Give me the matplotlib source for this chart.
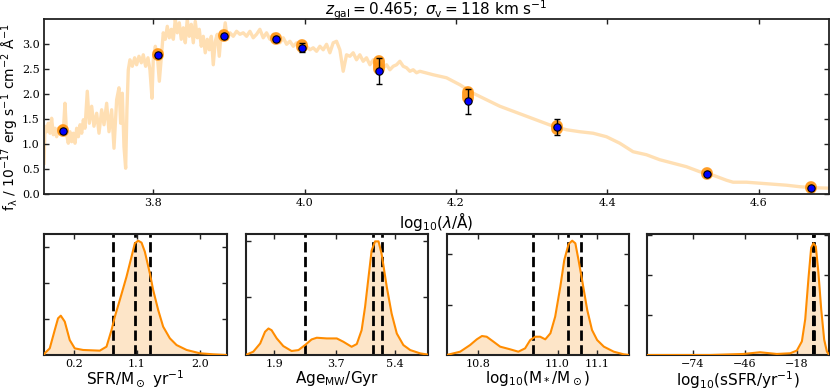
import numpy as np
import matplotlib
matplotlib.use("Agg")
import matplotlib.pyplot as plt

# ---------------- data ----------------
spec_loglam = [3.6556, 3.6569, 3.6591, 3.6613, 3.6635, 3.6657, 3.6679, 3.6701, 3.6723, 3.6745,
               3.6767, 3.6789, 3.6811, 3.6833, 3.6855, 3.6877, 3.6899, 3.6921, 3.6943, 3.6966,
               3.6988, 3.7010, 3.7032, 3.7054, 3.7076, 3.7098, 3.7128, 3.7155, 3.7186, 3.7216,
               3.7252, 3.7283, 3.7318, 3.7349, 3.7384, 3.7415, 3.7450, 3.7481, 3.7516, 3.7547,
               3.7569, 3.7591, 3.7613, 3.7635, 3.7652, 3.7670, 3.7692, 3.7723, 3.7754, 3.7780,
               3.7811, 3.7842, 3.7868, 3.7899, 3.7930, 3.7956, 3.7983, 3.8000, 3.8027, 3.8053,
               3.8080, 3.8106, 3.8132, 3.8159, 3.8185, 3.8212, 3.8238, 3.8265, 3.8291, 3.8317,
               3.8344, 3.8370, 3.8397, 3.8423, 3.8449, 3.8476, 3.8502, 3.8529, 3.8555, 3.8582,
               3.8608, 3.8634, 3.8661, 3.8687, 3.8714, 3.8740, 3.8767, 3.8793, 3.8819, 3.8846,
               3.8872, 3.8899, 3.8925, 3.8951, 3.8978, 3.9013, 3.9057, 3.9101, 3.9145, 3.9189,
               3.9233, 3.9277, 3.9321, 3.9365, 3.9409, 3.9453, 3.9497, 3.9541, 3.9585, 3.9630,
               3.9674, 3.9718, 3.9762, 3.9806, 3.9850, 3.9894, 3.9938, 3.9982, 4.0026, 4.0070,
               4.0114, 4.0158, 4.0202, 4.0246, 4.0290, 4.0334, 4.0378, 4.0422, 4.0466, 4.0510,
               4.0554, 4.0598, 4.0642, 4.0686, 4.0730, 4.0774, 4.0818, 4.0863, 4.0907, 4.0951,
               4.0995, 4.1039, 4.1083, 4.1127, 4.1171, 4.1215, 4.1259, 4.1303, 4.1347, 4.1391,
               4.1435, 4.1479, 4.1523, 4.1699, 4.1875, 4.2052, 4.2228, 4.2404, 4.2580, 4.2756,
               4.2932, 4.3108, 4.3285, 4.3461, 4.3637, 4.3813, 4.3989, 4.4165, 4.4341, 4.4517,
               4.4693, 4.4870, 4.5046, 4.5222, 4.5398, 4.5574, 4.5662, 4.5838, 4.6014, 4.6191,
               4.6367, 4.6543, 4.6719, 4.6939]
spec_flux = [0.61, 1.35, 1.24, 1.41, 1.21, 1.51, 1.18, 1.31, 1.14, 1.31,
             1.21, 1.35, 1.24, 1.81, 1.18, 1.01, 1.24, 1.04, 1.21, 1.01,
             1.31, 1.14, 1.38, 1.21, 1.48, 1.31, 2.05, 1.41, 1.75, 1.35,
             1.61, 1.21, 1.68, 1.38, 1.81, 1.24, 1.68, 0.91, 1.88, 2.12,
             1.41, 2.01, 0.94, 0.51, 1.68, 2.48, 2.68, 2.55, 2.72, 2.58,
             2.75, 2.62, 2.78, 2.55, 2.72, 2.48, 1.91, 2.68, 2.95, 2.78,
             2.25, 2.72, 3.22, 3.09, 3.35, 3.12, 3.29, 3.09, 3.49, 3.22,
             3.42, 3.09, 3.32, 3.02, 3.49, 3.15, 3.39, 3.02, 3.45, 3.12,
             3.29, 2.95, 3.15, 2.82, 3.09, 2.88, 3.15, 2.58, 3.05, 3.19,
             2.75, 3.25, 3.12, 3.42, 3.09, 3.22, 3.15, 3.25, 3.19, 3.22,
             3.15, 3.25, 3.12, 3.19, 3.29, 3.12, 3.22, 3.09, 3.19, 3.09,
             3.02, 3.12, 2.99, 3.05, 2.95, 3.02, 2.99, 2.92, 2.95, 2.88,
             2.92, 2.85, 2.95, 2.88, 2.99, 2.82, 3.02, 3.05, 2.88, 2.45,
             2.78, 2.75, 2.82, 2.68, 2.78, 2.65, 2.72, 2.58, 2.68, 2.55,
             2.62, 2.52, 2.58, 2.48, 2.55, 2.58, 2.65, 2.55, 2.52, 2.45,
             2.48, 2.42, 2.45, 2.38, 2.32, 2.18, 2.01, 1.88, 1.75, 1.65,
             1.55, 1.45, 1.35, 1.28, 1.24, 1.21, 1.14, 1.01, 0.84, 0.78,
             0.68, 0.61, 0.54, 0.44, 0.37, 0.27, 0.23, 0.23, 0.21, 0.19,
             0.17, 0.14, 0.12, 0.11]

phot_loglam = [3.681, 3.806, 3.893, 3.962, 3.996, 4.098, 4.216, 4.334, 4.532, 4.669]
phot_obs = [1.245, 2.77, 3.15, 3.09, 2.92, 2.46, 1.85, 1.325, 0.40, 0.12]
phot_err = [0.04, 0.04, 0.04, 0.04, 0.09, 0.26, 0.25, 0.16, 0.03, 0.02]
phot_model = [1.26, 2.78, 3.16, 3.10, 2.96, 2.58, 1.98, 1.33, 0.41, 0.13]
phot_model_spread = [0.01, 0.01, 0.01, 0.01, 0.02, 0.08, 0.06, 0.03, 0.01, 0.01]

title_text = r"$z_\mathrm{gal} = 0.465;\ \sigma_\mathrm{v} = 118$ km s$^{-1}$"

# posterior panels
post_labels = [r"$\mathrm{SFR/M_\odot\ yr^{-1}}$", r"$\mathrm{Age_{MW}/Gyr}$",
               r"$\mathrm{log_{10}(M_*/M_\odot)}$", r"$\mathrm{log_{10}(sSFR/yr^{-1})}$"]
post_xticks = [[0.2, 1.1, 2.0], [1.9, 3.7, 5.4], [10.8, 11.0, 11.1], [-74, -46, -18]]
post_xticklabels = [["0.2", "1.1", "2.0"], ["1.9", "3.7", "5.4"],
                    ["10.8", "11.0", "11.1"], ["\u221274", "\u221246", "\u221218"]]
post_xlim = [(-0.23, 2.38), (1.07, 6.36), (10.72, 11.181), (-98.8, -0.6)]
post_percentiles = [[0.757, 1.077, 1.29], [2.79, 4.77, 5.03],
                    [10.937, 11.027, 11.058], [-9.5, -9.06, -8.6]]
post_yticks = [[0.315, 0.63, 0.945], [0.505, 1.0], [0.437, 0.884], [0.35, 0.70, 1.05]]

sfr_x = [-0.23, -0.22, -0.148, -0.076, -0.029, 0.010, 0.067, 0.138, 0.21, 0.329, 0.568, 0.664,
         0.736, 0.783, 0.854, 0.95, 1.022, 1.069, 1.117, 1.165, 1.212, 1.284, 1.331, 1.403,
         1.474, 1.57, 1.666, 1.81, 2.0, 2.19, 2.38]
sfr_d = [0.0, 0.015, 0.058, 0.219, 0.321, 0.344, 0.292, 0.131, 0.058, 0.044, 0.038, 0.073,
         0.219, 0.335, 0.481, 0.685, 0.860, 0.977, 1.0, 0.983, 0.904, 0.714, 0.569, 0.394,
         0.248, 0.146, 0.087, 0.044, 0.015, 0.006, 0.0]

age_x = [1.07, 1.29, 1.49, 1.63, 1.73, 1.82, 1.97, 2.16, 2.40, 2.60, 2.79, 2.98, 3.13, 3.42,
         3.71, 3.90, 4.14, 4.29, 4.43, 4.53, 4.63, 4.72, 4.82, 4.92, 5.01, 5.16, 5.30, 5.45,
         5.64, 5.84, 6.13, 6.36]
age_d = [0.0, 0.029, 0.101, 0.203, 0.232, 0.217, 0.145, 0.078, 0.035, 0.043, 0.087, 0.136,
         0.151, 0.145, 0.145, 0.116, 0.072, 0.096, 0.217, 0.420, 0.681, 0.913, 0.994, 0.994,
         0.884, 0.594, 0.362, 0.188, 0.087, 0.043, 0.014, 0.003]

mass_x = [10.72, 10.754, 10.779, 10.796, 10.809, 10.821, 10.838, 10.855, 10.880, 10.901,
          10.918, 10.931, 10.944, 10.956, 10.969, 10.982, 10.994, 11.007, 11.017, 11.028,
          11.037, 11.045, 11.053, 11.062, 11.075, 11.087, 11.100, 11.117, 11.142, 11.167,
          11.181]
mass_d = [0.0, 0.029, 0.087, 0.137, 0.166, 0.160, 0.117, 0.073, 0.050, 0.029, 0.058, 0.131,
          0.160, 0.160, 0.137, 0.190, 0.335, 0.598, 0.831, 0.971, 1.0, 0.977, 0.831, 0.656,
          0.394, 0.219, 0.131, 0.073, 0.029, 0.006, 0.0]

ssfr_x = [-98.8, -64.7, -46.8, -37.8, -28.8, -21.6, -18.0, -15.3, -13.5, -11.75, -10.3,
          -9.06, -7.8, -6.4, -4.9, -3.3, -1.84, -0.6]
ssfr_d = [0.0, 0.0, 0.009, 0.024, 0.009, 0.015, 0.039, 0.119, 0.313, 0.672, 0.94, 0.977,
          0.95, 0.72, 0.40, 0.134, 0.030, 0.0]

post_x = [sfr_x, age_x, mass_x, ssfr_x]
post_d = [sfr_d, age_d, mass_d, ssfr_d]

# ---------------- style ----------------
W, H = 830, 392
fig = plt.figure(figsize=(W / 100, H / 100), dpi=100)
spine_c = "#222222"
tick_font = "DejaVu Serif"
label_fs = 11


def style_axes(ax, lw=1.3):
    for s in ax.spines.values():
        s.set_linewidth(lw)
        s.set_color(spine_c)
    ax.tick_params(direction="in", top=True, right=True, length=3.5, width=1.0,
                   color=spine_c, labelsize=8, labelfontfamily=tick_font, pad=3)


# top spectrum panel
ax = fig.add_axes([44 / W, 1 - 193.7 / H, (829 - 44) / W, (193.7 - 19.3) / H])
style_axes(ax)
ax.plot(spec_loglam, spec_flux, color="#FFDFB3", lw=2.4, zorder=1)
for lx, m, s in zip(phot_loglam, phot_model, phot_model_spread):
    ax.plot([lx, lx], [m - s, m + s], color="darkorange", lw=8.5,
            solid_capstyle="round", alpha=0.85, zorder=2)
ax.errorbar(phot_loglam, phot_obs, yerr=phot_err, fmt="none", ecolor="black",
            elinewidth=1.0, capsize=2.5, capthick=1.0, zorder=3)
ax.scatter(phot_loglam, phot_obs, s=28, color="blue", edgecolors="black",
           linewidths=0.8, zorder=4)
ax.set_xlim(3.6556, 4.693)
ax.set_ylim(0, 3.49)
ax.set_xticks([3.8, 4.0, 4.2, 4.4, 4.6])
ax.set_yticks([0.0, 0.5, 1.0, 1.5, 2.0, 2.5, 3.0])
ax.set_xlabel(r"$\mathrm{log_{10}}(\lambda / \mathrm{\AA})$", fontsize=label_fs, labelpad=1.5)
ax.set_ylabel(r"$\mathrm{f_{\lambda}}\ \mathrm{/\ 10^{-17}\ erg\ s^{-1}\ cm^{-2}\ \AA^{-1}}$",
              fontsize=10)
ax.yaxis.set_label_coords(-0.029, 0.44)
ax.set_title(title_text, fontsize=label_fs, pad=3)

# posterior panels
lefts = [44, 245.7, 446.7, 646.7]
pw = 182.5
for i in range(4):
    a = fig.add_axes([lefts[i] / W, 1 - 355 / H, pw / W, (355 - 234.3) / H])
    style_axes(a, lw=1.5)
    a.fill_between(post_x[i], 0, post_d[i], color="#FDE5C8", lw=0, zorder=1)
    a.plot(post_x[i], post_d[i], color="darkorange", lw=1.5, zorder=3)
    for p in post_percentiles[i]:
        a.axvline(p, color="black", ls="--", lw=2.0, zorder=2)
    a.set_xlim(*post_xlim[i])
    a.set_ylim(0, 1.056)
    a.set_xticks(post_xticks[i])
    a.set_xticklabels(post_xticklabels[i])
    a.set_yticks(post_yticks[i])
    a.set_yticklabels([])
    a.set_xlabel(post_labels[i], fontsize=label_fs, labelpad=0)

fig.savefig("out.png", dpi=100)
